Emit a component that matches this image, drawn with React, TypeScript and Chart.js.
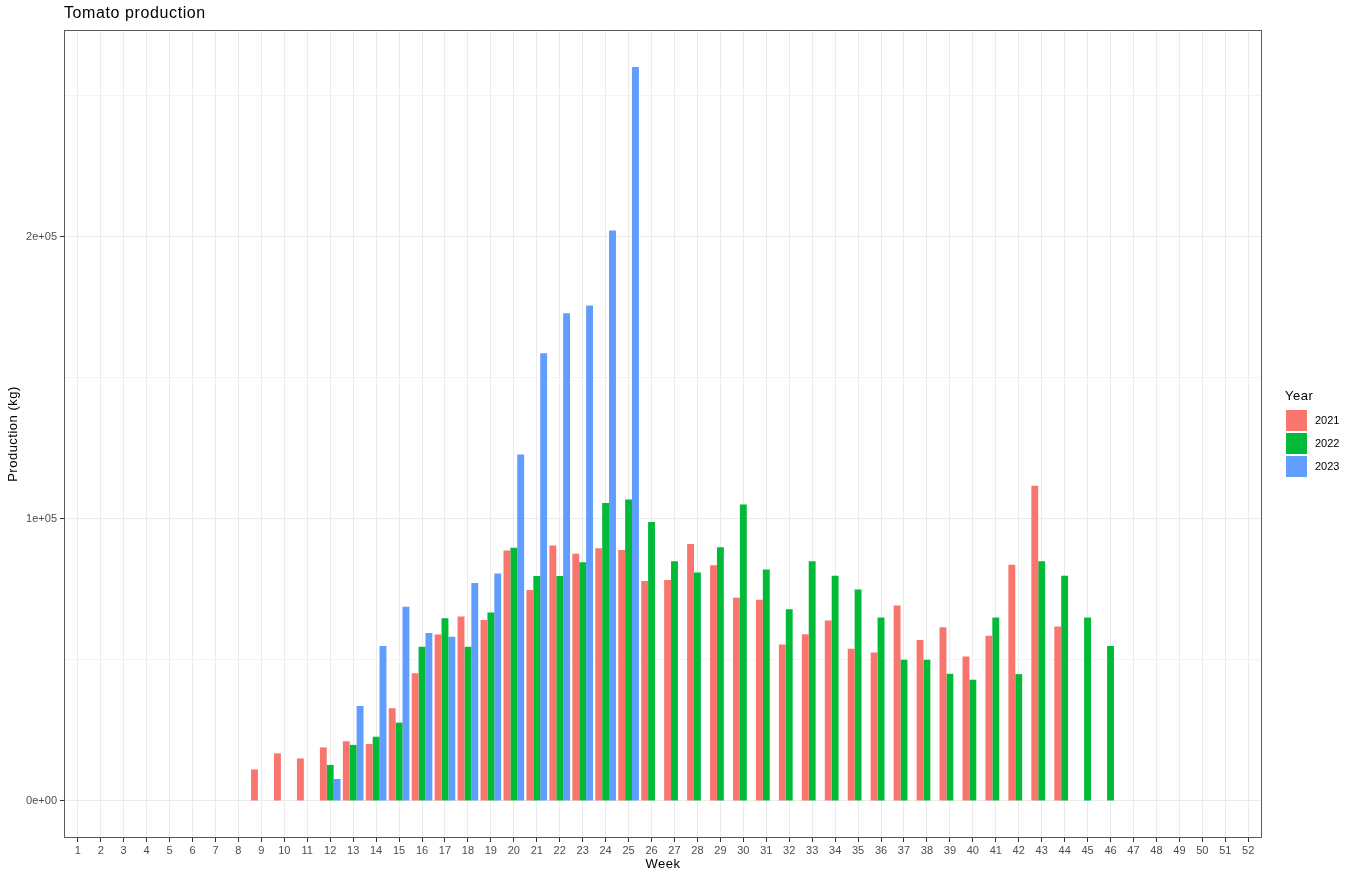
import React, { useEffect, useRef } from "react";
import { Chart, registerables } from "chart.js";

Chart.register(...registerables);

const weeks: number[] = Array.from({ length: 52 }, (_, i) => i + 1);

// values for weeks 1..52 (null = no bar)
const N = null;
const prod2021: (number | null)[] = [
  N, N, N, N, N, N, N, N, 11200, 16900, 15100, 19000, 21200, 20200, 32900, 45300,
  59000, 65400, 64200, 88800, 74800, 90600, 87700, 89600, 89000, 78000, 78400, 91100,
  83600, 72100, 71400, 55500, 59100, 64000, 54000, 52700, 69300, 57100, 61600, 51200,
  58600, 83800, 111800, 61900, N, N, N, N, N, N, N, N,
];
const prod2022: (number | null)[] = [
  N, N, N, N, N, N, N, N, N, N, N, 12800, 19900, 22800, 27800, 54700,
  64800, 54700, 66800, 89800, 79800, 79800, 84700, 105700, 106900, 98900, 85000, 81000,
  90000, 105100, 82100, 68000, 85000, 79900, 75000, 65100, 50100, 50100, 45100, 43000,
  65100, 45000, 85000, 79900, 65100, 55000, N, N, N, N, N, N,
];
const prod2023: (number | null)[] = [
  N, N, N, N, N, N, N, N, N, N, N, 7800, 33700, 55000, 68900, 59600,
  58200, 77300, 80700, 122900, 158800, 173000, 175700, 202300, 260300, N, N, N,
  N, N, N, N, N, N, N, N, N, N, N, N,
  N, N, N, N, N, N, N, N, N, N, N, N,
];

const seriesNames: string[] = ["2021", "2022", "2023"];
const seriesColors: string[] = ["#F8766D", "#00BA38", "#619CFF"];

const yGridValues: number[] = [0, 50000, 100000, 150000, 200000, 250000];
const yMajorValues: number[] = [0, 100000, 200000];
const yMajorLabels: string[] = ["0e+00", "1e+05", "2e+05"];

const FONT = '"Liberation Sans", Arial, sans-serif';

export default function App() {
  const ref = useRef<HTMLCanvasElement | null>(null);

  useEffect(() => {
    if (!ref.current) return;
    const series = [prod2021, prod2022, prod2023];
    const datasets = series.map((vals, si) => ({
      label: seriesNames[si],
      data: weeks.map((w, i) => ({ x: w, y: vals[i] })),
      backgroundColor: seriesColors[si],
      borderWidth: 0,
      categoryPercentage: 0.9,
      barPercentage: 1.0,
    }));

    const textPlugin = {
      id: "ggText",
      afterDraw(chart: any) {
        const ctx = chart.ctx;
        const a = chart.chartArea;
        ctx.save();
        // panel border
        ctx.strokeStyle = "#5a5a5a";
        ctx.lineWidth = 1;
        ctx.strokeRect(a.left + 0.5, a.top + 0.5, a.right - a.left - 1, a.bottom - a.top - 1);
        // title
        ctx.fillStyle = "#000000";
        ctx.font = `16px ${FONT}`;
        (ctx as any).letterSpacing = "0.6px";
        ctx.textAlign = "left";
        ctx.textBaseline = "alphabetic";
        ctx.fillText("Tomato production", 64, 18);
        // axis titles
        ctx.font = `13px ${FONT}`;
        (ctx as any).letterSpacing = "0.5px";
        ctx.textAlign = "center";
        ctx.textBaseline = "middle";
        ctx.fillText("Week", (a.left + a.right) / 2, 864);
        ctx.save();
        ctx.translate(13, (a.top + a.bottom) / 2);
        ctx.rotate(-Math.PI / 2);
        ctx.fillText("Production (kg)", 0, 0);
        ctx.restore();
        // legend
        ctx.textAlign = "left";
        ctx.font = `13px ${FONT}`;
        ctx.fillText("Year", 1285, 396);
        (ctx as any).letterSpacing = "0px";
        ctx.font = `11px ${FONT}`;
        seriesNames.forEach((name, i) => {
          const y = 410 + i * 23;
          ctx.fillStyle = seriesColors[i];
          ctx.fillRect(1286, y, 21, 21);
          ctx.fillStyle = "#000000";
          ctx.fillText(name, 1315, y + 11);
        });
        ctx.restore();
      },
    };

    const chart = new Chart(ref.current, {
      type: "bar",
      data: { datasets: datasets as any },
      options: {
        animation: false,
        responsive: false,
        devicePixelRatio: 1,
        layout: { padding: { left: 0, top: 30, right: 94, bottom: 21 } },
        plugins: { legend: { display: false }, title: { display: false }, tooltip: { enabled: false } },
        scales: {
          x: {
            type: "linear",
            min: 0.4,
            max: 52.6,
            offset: false,
            afterBuildTicks: (s: any) => {
              s.ticks = weeks.map((w) => ({ value: w }));
            },
            afterFit: (s: any) => {
              s.height = 20;
            },
            grid: {
              offset: false,
              color: "#EBEBEB",
              lineWidth: 1,
              tickColor: "#333333",
              tickLength: 4,
              drawTicks: true,
            },
            border: { display: false },
            ticks: {
              autoSkip: false,
              maxRotation: 0,
              padding: 2,
              color: "#4D4D4D",
              font: { family: FONT, size: 11 },
              callback: (v: any) => String(v),
            },
          },
          y: {
            type: "linear",
            min: -13121,
            max: 273404,
            afterBuildTicks: (s: any) => {
              s.ticks = yGridValues.map((v) => ({ value: v }));
            },
            afterFit: (s: any) => {
              s.width = 64;
            },
            grid: {
              color: (c: any) => (yMajorValues.includes(c.tick?.value) ? "#EBEBEB" : "#F4F4F4"),
              lineWidth: 1,
              tickColor: (c: any) => (yMajorValues.includes(c.tick?.value) ? "#333333" : "rgba(0,0,0,0)"),
              tickLength: 4,
            },
            border: { display: false },
            ticks: {
              padding: 3,
              color: "#4D4D4D",
              font: { family: FONT, size: 11 },
              callback: (v: any) => {
                const idx = yMajorValues.indexOf(Number(v));
                return idx >= 0 ? yMajorLabels[idx] : "";
              },
            },
          },
        },
      },
      plugins: [textPlugin],
    });
    return () => chart.destroy();
  }, []);

  return (
    <div style={{ position: "absolute", left: 0, top: 0, width: 1356, height: 879, background: "#fff" }}>
      <canvas ref={ref} width={1356} height={879} style={{ display: "block" }} />
    </div>
  );
}
